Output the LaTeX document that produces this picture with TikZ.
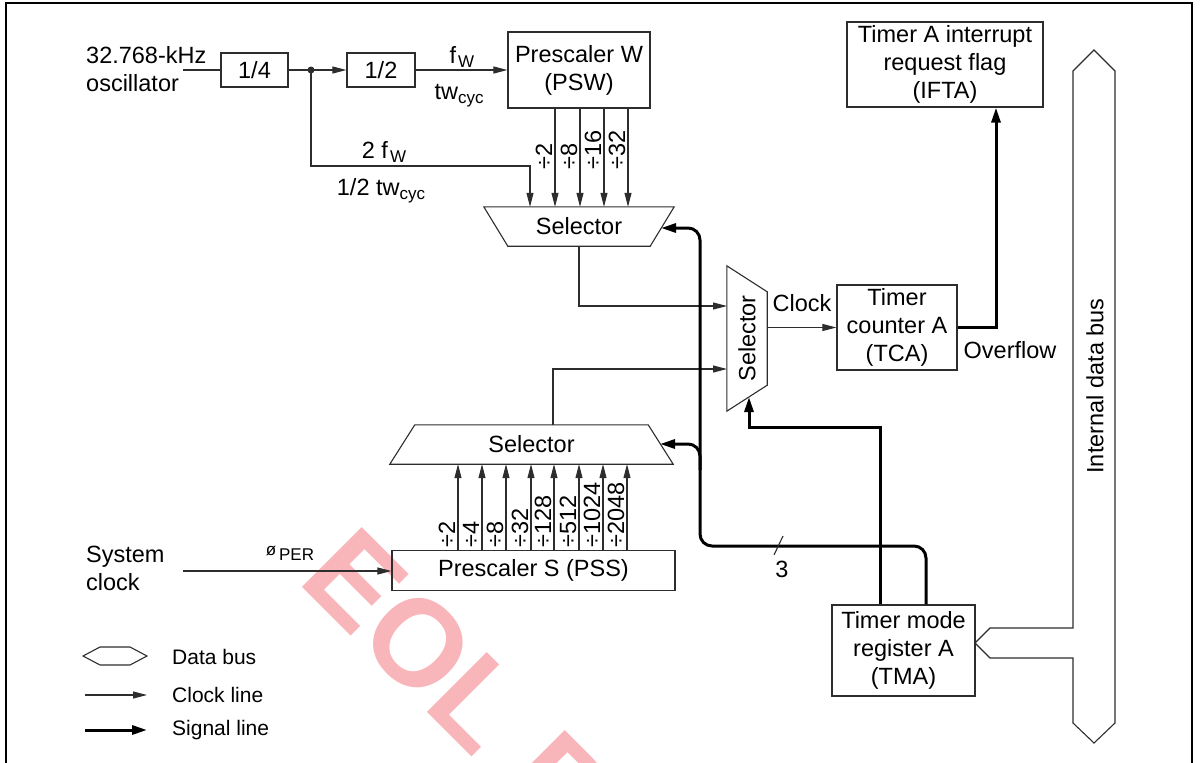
\documentclass[tikz,border=0pt]{standalone}
\usepackage{fontspec}
\setmainfont{Liberation Sans}
\usetikzlibrary{positioning, arrows.meta, calc}
\definecolor{WaterPink}{RGB}{249,182,186}
\definecolor{LineGray}{RGB}{45,45,45}
\newcommand{\lowsub}[1]{\raisebox{-4pt}{\fontsize{17}{17}\selectfont #1}}

\begin{document}
\begin{tikzpicture}[
      x=1pt, y=-1pt, inner sep=0pt,
      font=\fontsize{23.5}{28}\selectfont,
      box/.style={draw=LineGray, line width=1.2pt, align=center},
      body/.style={align=center},
      txt/.style={align=left, anchor=west},
      wire/.style={draw=LineGray, line width=1.1pt},
      clk/.style={wire, -{Triangle[length=14pt,width=7pt]}},
      sig/.style={line width=3pt, -{Triangle[length=15pt,width=9pt]}},
      divlbl/.style={rotate=90, anchor=base west},
      lgtxt/.style={anchor=west, font=\fontsize{21}{24}\selectfont}
  ]
    \useasboundingbox (0,0) rectangle (1200,763);

    % watermark
    \node[anchor=base west, rotate=-45, text=WaterPink,
          font=\bfseries\fontsize{123}{123}\selectfont] (eol) at (296,581) {EOL P};

    % frame
    \draw[line width=1.5pt] (6,763) -- (6,3) -- (1192,3) -- (1192,763);

    % oscillator and prescaler W
    \node[txt] (osc) at (86,69) {32.768-kHz\\oscillator};
    \coordinate (oscOut) at (183,70);
    \node[box, minimum width=67pt, minimum height=34pt] (div4) at (254.5,70) {1/4};
    \coordinate (split) at (311,70);
    \node[box, minimum width=68pt, minimum height=34pt] (div2) at (381,70) {1/2};
    \node[box, minimum width=142pt, minimum height=76pt] (psw) at (579,70) {Prescaler W\\(PSW)};
    \draw[wire] (oscOut) -- (div4);
    \draw[wire] (div4) -- (split);
    \fill[LineGray] (split) circle (3.5pt);
    \draw[clk] (split) -- (div2);
    \draw[clk] (div2) -- (psw);
    \node (fw) at (462,57) {f\hspace{2pt}\lowsub{W}};
    \node (twcyc) at (459,96) {tw\lowsub{cyc}};

    % upper selector
    \node[body, minimum width=142pt, minimum height=39pt] (selW) at (579,226.5) {Selector};
    \draw[wire] ($(selW.north west)+(-24,0)$) -- ($(selW.north east)+(24,0)$)
      -- (selW.south east) -- (selW.south west) -- cycle;
    \coordinate (tapW) at (530,166);
    \draw[clk] (split) |- (tapW) -- (tapW |- selW.north);
    \node (twofw) at (384,152) {2 f\hspace{2pt}\lowsub{W}};
    \node (halftw) at (381,191) {1/2 tw\lowsub{cyc}};
    \foreach \x/\d in {555/2, 580/8, 604/16, 628/32} {
      \draw[clk] (psw.south -| \x,0) -- (selW.north -| \x,0);
      \node[divlbl] at (\x-3,170) {÷\d};
    }

    % prescaler S and lower selector
    \node[txt] (sys) at (86,568) {System\\clock};
    \coordinate (sysOut) at (183,571);
    \node[box, minimum width=283pt, minimum height=40pt] (pss) at (533.5,570.5) {Prescaler S (PSS)};
    \draw[clk] (sysOut) -- (sysOut -| pss.west);
    \node (phiper) at (290,553) {\fontsize{17}{17}\selectfont\raisebox{5pt}{ø}\,PER};
    \node[body, minimum width=233pt, minimum height=39pt] (selS) at (531.5,444.5) {Selector};
    \draw[wire] (selS.north west) -- (selS.north east) -- ($(selS.south east)+(25,0)$)
      -- ($(selS.south west)+(-25,0)$) -- cycle;
    \foreach \x/\d in {458/2, 482/4, 506/8, 531/32, 554/128, 579/512, 603/1024, 627/2048} {
      \draw[clk] (pss.north -| \x,0) -- (selS.south -| \x,0);
      \node[divlbl] at (\x-3,548) {÷\d};
    }

    % clock selector and timer counter
    \node[body, minimum width=40pt, minimum height=93pt] (selR) at (747,338.5) {\rotatebox{90}{Selector}};
    \draw[wire] (selR.north east) -- (selR.south east) -- ($(selR.south west)+(0,26)$)
      -- ($(selR.north west)+(0,-26)$) -- cycle;
    \coordinate (inA) at (727,306);
    \coordinate (inB) at (727,369);
    \draw[clk] (selW.south) |- (inA);
    \draw[clk] (selS.north -| 553,0) |- (inB);
    \node[box, minimum width=120pt, minimum height=85pt] (tca) at (897,327.5) {Timer\\counter A\\(TCA)};
    \draw[clk] (selR.east |- tca.west) -- (tca.west);
    \node (clkLbl) at (802,303) {Clock};

    % interrupt flag
    \node[box, minimum width=196pt, minimum height=85pt] (ifta) at (945,64.5) {Timer A interrupt\\request flag\\(IFTA)};
    \coordinate (ovf) at (996,327.5);
    \draw[sig] (tca.east) -- (ovf) -- (ovf |- ifta.south);
    \node (ovfLbl) at (1010,350) {Overflow};

    % timer mode register
    \node[box, minimum width=143pt, minimum height=91pt] (tma) at (903.5,650.5) {Timer mode\\register A\\(TMA)};
    \coordinate (selRbot) at (749,397);
    \coordinate (cntBend) at (880,427);
    \draw[sig] (tma.north -| cntBend) -- (cntBend) -| (selRbot);
    \coordinate (busBend) at (700,546);
    \coordinate (selWin) at (661,228);
    \coordinate (selSin) at (660,444);
    \coordinate (busTap) at (700,470);
    \draw[sig, rounded corners=12pt] (tma.north -| 926,0) |- (busBend) |- (selWin);
    \draw[sig, rounded corners=12pt] (busTap) |- (selSin);
    \draw[wire] (774,555) -- (783,536);
    \node (three) at (782,569) {3};

    % internal data bus
    \coordinate (tmaBus) at (975,643);
    \draw[wire] (1094,50) -- (1115,71) -- (1115,723) -- (1094,743) -- (1073,723)
      -- (1073,658) -- (990,658) -- (tmaBus) -- (990,628) -- (1073,628) -- (1073,71) -- cycle;
    \node[rotate=90] (busLbl) at (1095,386) {Internal data bus};

    % legend
    \node[lgtxt] (lgBus) at (172,657) {Data bus};
    \node[lgtxt] (lgClk) at (172,695) {Clock line};
    \node[lgtxt] (lgSig) at (172,730) {Signal line};
    \draw[wire] (83,656) -- (100,647) -- (130,647) -- (147,656) -- (130,665) -- (100,665) -- cycle;
    \draw[clk] ($(lgClk.west)+(-87,0)$) -- ($(lgClk.west)+(-25,0)$);
    \draw[sig] ($(lgSig.west)+(-87,0)$) -- ($(lgSig.west)+(-25,0)$);
  \end{tikzpicture}
\end{document}
